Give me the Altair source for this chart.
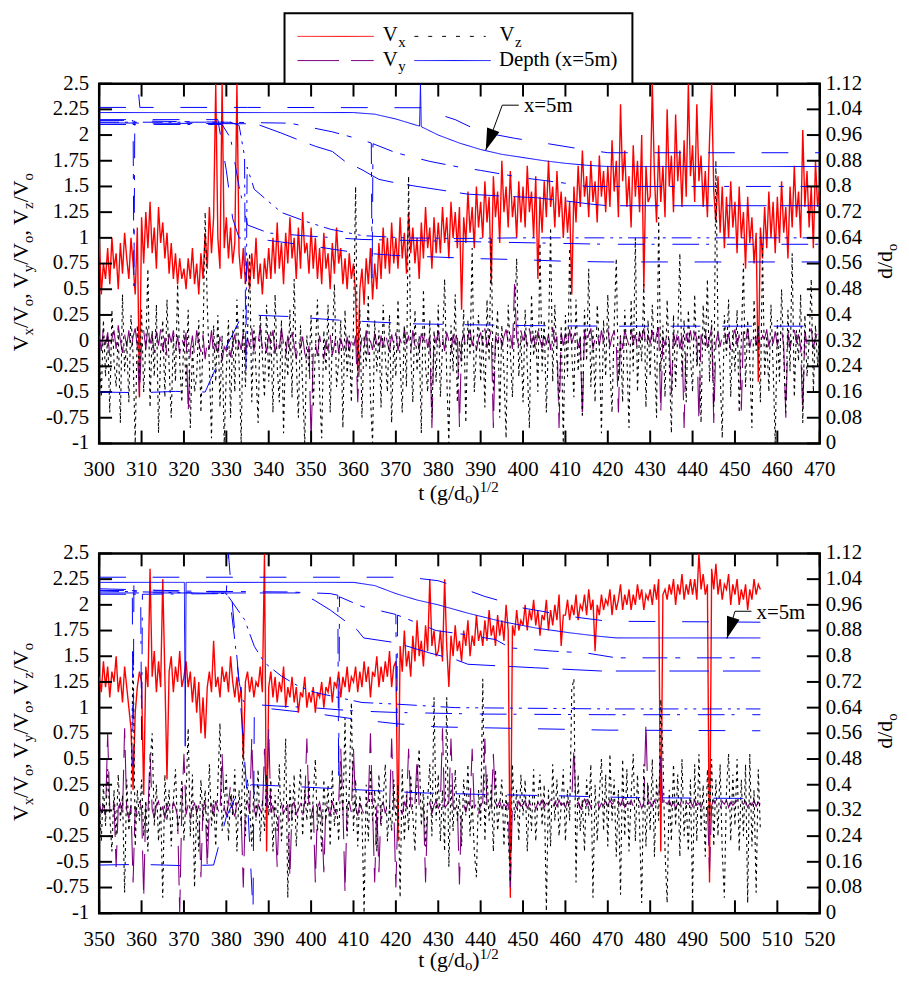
import numpy as np
import pandas as pd
import altair as alt

FONT = "Liberation Serif"
W, H = 727, 363
RED, PURPLE, BLUE = "#ff0000", "#800080", "#0000ff"

V_TICKS = [-1, -0.75, -0.5, -0.25, 0, 0.25, 0.5, 0.75, 1, 1.25, 1.5, 1.75, 2, 2.25, 2.5]
D_TICKS = [0, 0.08, 0.16, 0.24, 0.32, 0.4, 0.48, 0.56, 0.64, 0.72, 0.8, 0.88, 0.96, 1.04, 1.12]
TOP_T_TICKS = [300, 310, 320, 330, 340, 350, 360, 370, 380, 390, 400, 410, 420, 430, 440, 450, 460, 470]
BOT_T_TICKS = [350, 360, 370, 380, 390, 400, 410, 420, 430, 440, 450, 460, 470, 480, 490, 500, 510, 520]

# ---------------- upper panel: samples every 0.5 from t = 300 ----------------
TOP_T0 = 300.0
TOP_VX = [
    1.0, 0.45, 0.75, 0.6, 0.9, 0.55, 1.0, 0.7, 0.85, 0.5, 0.95, 0.65, 1.05, 0.8, 0.6, 1.0, 0.75, 0.45, 1.1, -0.55,
    1.2, 0.75, 1.25, 0.9, 1.35, 0.85, 1.1, 0.7, 1.3, 0.95, 1.15, 0.8, 1.05, 0.65, 0.95, 0.6, 0.85, 0.55, 0.8, 0.6,
    0.7, 0.5, 0.8, 0.6, 0.9, 0.55, 0.75, 0.45, 0.85, 0.6, 1.05, 0.7, 1.3, 0.85, 1.2, 2.5, 1.0, 0.7, 2.5, 0.9,
    1.2, 0.8, 1.1, 0.75, 0.95, 2.5, 0.85, 0.6, 0.9, 0.55, 0.8, 0.5, 0.85, 0.6, 1.0, 0.55, 0.75, 0.45, 0.8, 0.6,
    0.9, 0.6, 1.0, 0.65, 1.15, 0.7, 0.95, 0.55, 1.05, 0.75, 1.2, 0.8, 1.0, 0.6, 1.1, 0.7, 1.25, 0.85, 0.95, 0.65,
    1.1, 0.7, 1.0, 0.6, 0.9, 0.55, 1.05, 0.7, 0.85, 0.5, 0.95, 0.65, 1.1, 0.75, 0.9, 0.55, 0.8, 0.5, 0.85, 0.6,
    0.75, 0.45, -0.3, 0.5, 0.7, 0.35, 0.8, 0.55, 0.9, 0.4, 0.75, 0.5, 0.95, 0.6, 1.1, 0.7, 1.0, 0.65, 1.15, 0.75,
    1.0, 0.7, 1.2, 0.8, 1.05, 0.65, 1.25, 0.85, 1.1, 0.75, 1.0, 0.6, 1.15, 0.8, 1.3, 0.9, 1.1, 0.7, 1.2, 0.85,
    1.15, 0.85, 1.3, 0.95, 1.2, 0.8, 1.35, 1.0, 1.25, 0.9, 1.3, 0.3, 1.2, 0.95, 1.45, 1.05, 1.3, 0.9, 1.5, 1.1,
    1.35, 1.0, 1.55, 1.15, 1.4, 0.55, 1.6, 1.2, 1.45, 0.95, 1.75, 1.25, 1.5, 1.1, 1.65, 1.2, 1.4, 1.0, 1.55, 1.15,
    1.5, 1.1, 1.7, 1.25, 1.45, 1.0, 1.6, 0.6, 1.4, 1.05, 1.55, 1.2, 1.75, 1.3, 1.5, 1.1, 1.65, 1.2, 1.45, 1.0,
    1.4, 1.05, 1.35, 0.45, 1.5, 1.15, 1.7, 1.3, 1.85, 1.4, 1.6, 1.2, 1.75, 1.35, 1.55, 1.15, 1.8, 1.4, 1.65, 1.25,
    1.7, 1.3, 1.95, 1.45, 1.75, 1.2, 2.3, 1.55, 1.85, 1.3, 1.6, 1.1, 1.9, 1.4, 1.75, 1.25, 2.0, 0.5, 1.7, 1.35,
    1.4, 2.5, 1.6, 1.15, 1.9, 1.35, 1.7, 1.2, 2.25, 1.5, 1.8, 1.25, 2.2, 1.55, 1.85, 1.3, 1.95, 1.4, 2.5, 1.6,
    1.9, 1.35, 2.3, 1.55, 1.8, 1.3, 1.65, 1.2, 1.95, 2.5, 1.45, 1.15, 1.6, 1.05, 1.5, 0.9, 1.4, 1.0, 1.55, 1.1,
    1.35, 0.85, 1.5, 1.0, 1.25, 0.7, 1.4, 0.95, 1.2, 0.75, 1.05, -0.4, 1.1, 0.8, 1.3, 0.9, 1.45, 1.0, 1.35, 0.85,
    1.4, 0.95, 1.55, 1.05, 1.3, 0.8, 1.5, 1.1, 1.7, 1.2, 1.45, 1.0, 2.05, 1.3, 1.65, 1.1, 1.5, 0.9, 1.75, 1.3, 1.5,
]
TOP_VY = [
    0.05, -0.1, 0.12, -0.04, 0.08, -0.15, 0.02, 0.1, -0.08, 0.15, 0.0, -0.12, 0.06, -0.05, 0.1, -0.1, 0.04, 0.12, -0.06, -0.55,
    0.0, 0.1, -0.08, 0.14, -0.03, 0.06, -0.12, 0.09, -0.05, 0.11, -0.1, 0.03, -0.15, 0.07, -0.02, 0.1, -0.09, 0.05, -0.13, 0.02,
    -0.05, 0.08, -0.7, -0.1, 0.05, -0.14, 0.1, -0.02, -0.11, 0.06, -0.18, 0.0, -0.08, 0.1, -0.15, -0.03, -0.12, 0.04, -0.2, -0.06,
    -0.1, 0.02, -0.16, -0.04, 0.06, -0.12, 0.0, -0.09, 0.08, -0.14, 0.03, -0.06, 0.12, -0.1, 0.05, -0.03, 0.14, -0.08, 0.02, -0.12,
    0.06, -0.05, 0.1, -0.13, 0.02, -0.08, 0.12, -0.03, -0.15, 0.05, -0.1, 0.08, -0.04, -0.18, 0.0, -0.07, 0.04, -0.12, -0.2, -0.05,
    -1.0, -0.1, -0.02, -0.15, 0.05, -0.08, -0.18, 0.0, -0.1, 0.06, -0.14, -0.04, 0.08, -0.12, 0.02, -0.06, -0.16, 0.04, -0.1, 0.0,
    -0.08, 0.05, -0.6, -0.12, 0.03, -0.06, 0.1, -0.14, 0.0, -0.09, 0.07, -0.03, -0.13, 0.05, -0.07, 0.09, -0.02, -0.11, 0.06, -0.04,
    0.08, -0.1, 0.02, -0.06, 0.12, -0.03, 0.05, -0.12, 0.1, -0.05, 0.03, -0.09, 0.07, 0.0, 0.1, -0.07, 0.04, -0.85, 0.06, -0.03,
    0.1, -0.06, 0.04, -0.1, 0.08, 0.0, -0.12, 0.06, -0.04, 0.1, -0.84, -0.02, 0.07, -0.08, 0.03, 0.11, -0.05, 0.06, -0.1, 0.02,
    0.08, -0.04, 0.12, -0.07, 0.02, 0.1, -0.85, 0.05, -0.03, 0.09, -0.06, 0.04, 0.11, -0.02, 0.07, -0.08, 0.55, 0.03, -0.05, 0.1,
    0.0, 0.08, -0.06, 0.12, -0.03, 0.05, -0.1, 0.09, 0.01, -0.07, 0.1, -0.04, 0.06, -0.09, 0.13, -0.02, 0.04, -0.85, 0.08, -0.05,
    0.07, -0.06, 0.11, -0.03, 0.05, 0.09, -0.07, 0.03, -0.75, 0.1, -0.04, 0.06, 0.12, -0.08, 0.02, 0.08, -0.05, 0.1, -0.02, 0.06,
    0.12, -0.06, 0.04, 0.09, -0.03, -0.7, 0.07, -0.08, 0.1, 0.02, -0.05, 0.11, -0.02, 0.06, -0.09, 0.08, 0.01, 0.12, -0.06, 0.05,
    -0.03, 0.1, -0.07, 0.06, 0.13, -0.7, 0.04, -0.05, 0.09, 0.0, -0.52, 0.08, -0.04, 0.11, -0.08, 0.05, -0.85, 0.07, -0.02, 0.1,
    -0.05, 0.08, 0.02, -0.78, 0.06, -0.04, 0.1, -0.07, 0.03, 0.12, -0.8, -0.02, 0.08, -0.06, 0.05, 0.1, -0.03, 0.07, -0.09, 0.04,
    0.11, -0.05, 0.06, -0.68, 0.09, -0.02, 0.12, -0.07, 0.04, 0.08, -0.04, 0.1, -0.08, 0.05, 0.02, 0.11, -0.06, 0.07, -0.03, 0.09,
    -0.05, 0.06, 0.1, -0.04, -0.75, 0.08, -0.07, 0.03, 0.11, -0.02, 0.06, -0.06, -0.7, 0.09, -0.03, 0.05, 0.12, -0.08, 0.04, 0.07, 0.0,
]
TOP_VZ = [
    -0.1, -0.55, 0.2, -0.35, 0.05, -0.7, 0.3, -0.2, -0.45, 0.1, -0.8, 0.45, -0.3, 0.0, -0.6, 0.25, -0.15, -1.0, 0.15, -0.4,
    0.3, -0.5, -0.05, 0.7, -0.65, 0.1, -0.35, 0.35, -0.9, -0.1, 0.2, -0.55, 0.4, -0.25, -0.75, 0.05, -0.4, 0.55, -0.2, -0.6,
    0.1, -0.45, 0.3, -0.85, -0.05, -0.5, -0.35, 0.2, -0.7, 0.0, 1.25, 0.35, -0.25, -0.95, 0.15, -0.4, 0.25, -0.65, 0.05, -1.0,
    -0.3, 0.2, -0.75, 0.1, -0.5, 0.4, -0.2, -1.0, 0.3, -0.45, 0.05, 0.85, -0.6, 0.15, -0.3, -0.8, 0.25, -0.15, -0.55, 0.35,
    -0.4, 0.1, -0.7, 0.45, -0.25, -0.6, 0.2, -0.9, 0.0, -0.35, 0.3, -0.55, 0.6, -0.2, -0.75, 0.15, -0.45, -1.0, 0.05, -0.3,
    0.25, -0.65, -0.1, 0.4, -0.5, -0.95, 0.1, -0.3, 0.35, -0.7, 0.0, 0.55, -0.45, -0.2, 0.2, -0.85, 0.3, -0.35, 0.05, -0.6,
    0.15, 1.5, -0.4, 0.3, -0.75, 0.05, -0.25, 0.45, -0.55, -1.0, 0.2, -0.3, 0.1, -0.65, 0.35, -0.15, -0.5, 0.25, -0.8, 0.0,
    -0.35, 0.4, -0.2, -0.7, 0.15, -0.45, 1.6, -0.1, -0.6, 0.3, -0.3, 0.05, -0.9, 0.5, -0.25, -0.5, 0.2, -0.75, 0.1, -0.4,
    0.35, -0.55, -0.05, 0.6, -0.35, -1.0, 0.15, -0.3, 0.45, -0.6, 0.0, -0.25, 0.3, -0.8, 0.2, -0.15, 0.9, -0.5, -0.1, 0.25,
    -0.4, 0.1, -0.65, 0.4, -0.2, 1.0, -0.5, -0.05, 0.3, -0.75, 0.15, -0.3, -0.95, 0.35, -0.1, -0.55, 0.2, 0.8, -0.35, 0.05,
    -0.6, 0.3, -0.25, -0.85, 0.45, -0.15, 0.1, -0.5, 0.95, -0.3, 0.2, -0.7, 0.0, 1.1, -0.4, 0.35, -0.2, -0.65, 0.15, -1.0,
    0.25, -0.35, 0.9, -0.1, -0.55, 0.4, -0.3, 0.05, -0.75, 0.3, -0.2, 0.7, -0.45, 0.1, -0.6, 0.35, -0.05, -0.9, 0.2, -0.35,
    0.45, -0.25, -0.7, 0.15, 0.8, -0.4, 0.05, -0.6, 0.3, -0.15, -0.85, 0.4, -0.3, 1.0, -0.5, 0.1, -0.2, 0.55, -0.65, 0.2,
    -0.35, 0.35, -0.1, -0.75, 1.2, -0.3, 0.15, -0.55, 0.4, -0.2, -0.9, 0.25, -0.45, 0.05, 0.85, -0.35, 0.2, -0.6, 0.3, -0.15,
    -0.5, 0.45, -0.25, 0.1, -0.8, 0.35, -0.1, 0.6, -0.4, 0.2, -0.65, 1.75, 0.05, -0.3, -0.95, 0.25, -0.15, 0.4, -0.55, 0.1,
    -0.3, 0.3, -0.7, 0.0, 0.75, -0.45, 0.2, -0.2, -0.85, 0.4, -0.1, 0.15, -0.6, 0.9, -0.35, 0.05, -0.5, 0.35, -0.25, -1.0,
    0.2, -0.4, 0.5, -0.15, -0.7, 0.3, -0.3, 0.85, -0.55, 0.1, -0.2, 0.45, -0.8, 0.25, -0.35, 0.0, 0.6, -0.5, 0.15, -0.25, 0.1,
]
# depth lines (t, d/do)
TOP_L1 = [(300, 1.046), (309, 1.046), (309.3, 1.09), (309.6, 1.046), (335, 1.046), (378, 1.045), (380, 1.025),
          (384, 1.008), (390, 0.97), (398, 0.95), (405, 0.935), (412, 0.92), (420, 0.905), (470, 0.905)]
TOP_L2 = [(300, 1.03), (360, 1.03), (365, 1.025), (370, 1.01), (375, 0.99), (375.6, 0.988), (375.8, 1.12),
          (376.0, 0.986), (380, 0.96), (385, 0.935), (390, 0.915), (395, 0.90), (400, 0.89), (405, 0.88),
          (410, 0.872), (415, 0.866), (420, 0.862), (470, 0.862)]
TOP_L3 = [(300, 1.005), (308.0, 1.005), (308.2, 0.49), (308.4, 1.004), (345, 0.997), (355, 0.97), (362, 0.945),
          (364.2, 0.935), (364.4, 0.51), (364.6, 0.933), (370, 0.905), (378, 0.878), (385, 0.86), (390, 0.85),
          (400, 0.827), (410, 0.81), (415, 0.80), (470, 0.80)]
TOP_L4 = [(300, 0.998), (337, 0.995), (343, 0.966), (347, 0.945), (351, 0.925), (355, 0.909), (358, 0.878),
          (362, 0.852), (366, 0.822), (370, 0.811), (375, 0.80), (380, 0.79), (387, 0.776), (395, 0.77),
          (403, 0.765), (410, 0.755), (416, 0.745), (420, 0.74), (470, 0.74)]
TOP_L5 = [(300, 1.0), (331, 1.0), (333, 0.99), (334.3, 0.894), (334.6, 0.22), (334.9, 0.86), (336.6, 0.791),
          (343, 0.719), (349, 0.69), (354.5, 0.667), (362, 0.647), (372, 0.64), (384, 0.638), (400, 0.64), (470, 0.64)]
TOP_L6 = [(300, 0.993), (329, 0.993), (331, 0.95), (333, 0.8), (335, 0.68), (340, 0.655), (350, 0.645),
          (362, 0.635), (380, 0.63), (400, 0.625), (420, 0.62), (470, 0.62)]
TOP_L7 = [(300, 1.008), (328, 1.008), (330, 0.85), (331.5, 0.70), (333, 0.64), (340, 0.632), (350, 0.615),
          (360, 0.595), (370, 0.585), (380, 0.58), (390, 0.575), (400, 0.572), (410, 0.567), (420, 0.565), (470, 0.565)]
TOP_L8 = [(300, 0.16), (310, 0.158), (318, 0.162), (325, 0.16), (327, 0.22), (330, 0.30), (333, 0.38), (335, 0.40),
          (345, 0.395), (355, 0.385), (365, 0.378), (375, 0.372), (385, 0.37), (400, 0.367), (420, 0.365), (470, 0.365)]
TOP_LEADER = [(395.1, 1.053, 399.0, 1.053), (395.1, 1.053, 391.2, 0.913)]
TOP_TIP = (391.2, 0.913)
TOP_LABEL = (400.2, 1.033)

# ---------------- lower panel: samples every 0.5 from t = 350 ----------------
BOT_T0 = 350.0
BOT_VX = [
    1.3, 1.15, 1.45, 1.2, 1.4, 1.1, 1.35, 1.25, 1.5, 1.15, 1.3, 1.05, 1.4, 1.2, 1.0, 0.8, 0.2, 0.95, 1.2, 1.35,
    1.25, 0.15, 1.4, 1.2, 2.35, 1.3, 1.55, 1.15, 1.45, 1.2, 2.25, 1.3, 0.3, 1.35, 1.5, 1.15, 1.4, 1.25, 1.55, 1.2,
    1.3, 1.45, 1.2, 1.35, 1.05, 1.3, 0.95, 1.25, 0.75, 1.1, 0.7, 1.2, 1.35, 1.15, 1.65, 1.2, 1.3, 1.1, 1.4, 1.25,
    1.35, 1.15, 1.5, 1.25, 1.1, 1.3, 1.05, 1.2, 0.5, 1.25, 1.35, 1.15, 1.3, 1.1, 1.25, 1.2, 1.4, 1.15, 2.5, -0.4,
    1.2, 1.35, 1.1, 1.3, 1.05, 1.25, 1.15, 1.4, 1.0, 1.2, 1.1, 1.3, 1.05, 1.2, 0.95, 1.15, 1.1, 1.3, 1.0, 1.15,
    1.05, 1.2, 0.95, 1.15, 1.1, 1.25, 1.0, 1.2, 1.15, 1.3, 1.05, 1.25, 1.2, 1.35, 1.1, 1.3, 1.2, 1.4, 1.15, 1.3,
    1.25, 1.4, 1.15, 1.35, 1.2, 1.45, 1.25, 1.4, 1.1, 1.35, 1.3, 1.5, 1.2, 1.4, 1.25, 1.45, 1.3, 1.55, 1.2, 1.4,
    1.45, -0.3, 1.6, 1.35, 1.75, 1.4, 1.55, 1.3, 1.7, 1.45, 1.85, 1.5, 1.65, 1.4, 1.8, 1.55, 2.25, 1.6, 1.75, 1.5,
    1.55, 1.75, 1.45, 2.25, 1.6, 1.2, 1.7, 1.5, 1.8, 1.55, 1.65, 1.45, 1.75, 1.6, 1.85, 1.5, 1.7, 1.6, 1.9, 1.65,
    1.75, 1.6, 1.85, 1.65, 1.95, 1.7, 1.8, 1.6, 1.9, 1.7, 1.85, 1.65, 2.0, 1.75, -0.85, 1.8, 1.7, 1.95, 1.75, 1.85,
    1.8, 2.0, 1.75, 1.95, 1.85, 2.05, 1.8, 1.95, 1.7, 1.9, 1.85, 2.05, 1.75, 1.95, 1.8, 2.0, 1.85, 2.1, 1.6, 1.9,
    1.9, 2.05, 1.85, 2.0, 1.9, 2.1, 1.85, 2.0, 1.95, 2.1, 1.9, 2.15, 1.95, 2.05, 1.55, 2.0, 1.9, 2.1, 1.95, 2.05,
    2.0, 2.15, 1.9, 2.1, 1.95, 2.05, 2.2, 1.95, 2.1, 2.0, 2.15, 1.95, 2.1, 2.0, 2.2, 2.05, 2.15, 1.95, 2.1, 2.05,
    2.15, 2.0, 2.2, 2.05, 2.25, -0.4, 2.1, 2.15, 2.05, 2.2, 2.1, 2.25, 2.0, 2.2, 2.1, 2.3, 2.05, 2.2, 2.1, 2.25,
    2.1, 2.25, 2.05, 2.5, 2.15, 2.3, 2.1, 2.2, -0.7, 2.35, 2.15, 2.4, 2.1, 2.25, 2.05, 2.2, 2.15, 2.3, 2.0, 2.2,
    2.1, 2.25, 2.0, 2.15, 2.05, 2.2, 1.95, 2.15, 2.05, 2.25, 2.1, 2.2, 2.15,
]
BOT_VY = [
    0.1, -0.03, 0.06, -0.05, 0.75, 0.02, -0.04, 0.08, -0.55, 0.03, 0.07, -0.06, 0.8, 0.0, -0.08, 0.05, -0.7, 0.04, -0.05, 0.09,
    0.02, -0.85, 0.06, -0.04, 0.55, 0.01, -0.07, 0.05, 0.09, -0.03, 0.04, -0.08, 0.07, 0.0, -0.05, 0.08, 0.03, -0.06, -1.0, 0.05,
    0.55, -0.04, 0.06, -0.08, 0.03, 0.07, -0.02, 0.05, -0.65, 0.04, 0.08, -0.55, 0.02, 0.06, -0.05, 0.09, 0.01, -0.04, 0.55, 0.03,
    -0.05, 0.07, 0.25, 0.0, -0.06, 0.08, 0.02, -0.04, -0.75, 0.05, 0.09, -0.03, 0.7, 0.04, -0.07, 0.06, 0.01, -0.05, 0.6, 0.03,
    0.8, -0.02, 0.05, -0.08, -0.55, 0.04, 0.07, -0.03, 0.02, 0.06, -0.65, 0.05, 0.08, -0.04, 0.01, 0.06, -0.05, 0.09, 0.7, 0.0,
    -0.06, 0.05, -0.7, 0.03, 0.08, -0.04, -0.6, 0.06, 0.02, -0.05, 0.09, 0.0, -0.03, 0.07, 0.6, 0.04, -0.8, 0.05, 0.08, -0.02,
    0.6, 0.03, -0.05, 0.07, 0.01, -0.04, 0.06, 0.09, 0.75, 0.02, -0.7, 0.05, -0.6, 0.04, 0.08, -0.03, 0.06, 0.0, 0.7, 0.05,
    -0.75, 0.06, 0.02, -0.04, 0.08, 0.03, 0.6, 0.05, -0.02, 0.07, 0.5, 0.04, 0.01, 0.06, -0.7, 0.03, 0.08, -0.03, 0.05, 0.09,
    0.02, 0.06, 0.8, -0.02, 0.05, 0.08, 0.7, 0.04, 0.01, 0.07, -0.72, 0.03, 0.06, -0.02, 0.08, 0.05, 0.6, 0.02, 0.07, -0.03,
    0.05, 0.08, 0.7, 0.03, 0.06, 0.01, 0.55, 0.07, 0.04, 0.09, 0.02, 0.06, 0.03, 0.08, -0.75, 0.05, 0.07, 0.02, 0.09, 0.04,
    0.06, 0.1, 0.02, 0.07, 0.04, 0.09, 0.01, 0.08, 0.05, 0.1, 0.03, 0.07, 0.06, 0.11, 0.02, 0.08, 0.04, 0.1, 0.05, 0.07,
    0.03, 0.09, 0.06, 0.1, 0.6, 0.04, 0.08, 0.02, 0.07, 0.11, 0.05, 0.09, 0.03, 0.08, 0.06, 0.1, 0.02, 0.07, 0.05, 0.09,
    0.04, 0.1, 0.06, 0.08, 0.02, 0.09, 0.05, 0.11, 0.03, 0.07, 0.06, 0.1, 0.04, 0.08, 0.05, 0.09, 0.02, 0.07, 0.85, 0.06,
    0.08, 0.04, 0.1, 0.05, 0.07, 0.55, 0.03, 0.09, 0.06, 0.1, 0.04, 0.08, 0.02, 0.07, 0.05, 0.11, 0.03, 0.08, 0.06, 0.09,
    0.04, 0.1, 0.05, 0.07, 0.03, 0.09, 0.06, 0.08, -0.6, 0.05, 0.1, 0.04, 0.07, 0.02, 0.09, 0.06, 0.1, 0.03, 0.08, 0.05,
    0.07, 0.1, 0.04, 0.08, 0.06, 0.09, 0.03, 0.07, 0.05, 0.1, 0.04, 0.08, 0.06,
]
BOT_VZ = [
    0.1, -0.3, 0.25, -0.15, 0.4, -0.05, -0.4, 0.2, -0.25, 0.35, -0.1, 0.15, -0.8, 0.3, -0.2, 0.05, 1.55, -0.35, 0.2, -0.1,
    0.3, -0.25, 0.1, -0.4, 0.45, 0.75, -0.15, 0.25, -0.3, 0.05, -0.85, 0.35, -0.1, 0.2, -0.35, 0.1, 0.4, -0.2, -0.05, 0.3,
    -0.3, 0.15, 0.8, -0.25, 0.35, -0.75, 0.05, -0.4, 0.3, -0.1, 0.2, -0.3, 0.45, -0.15, 0.1, -0.35, 0.25, 0.85, -0.2, 0.05,
    0.35, -0.3, 0.15, -0.05, 0.4, -0.4, 0.2, -0.15, 0.75, -0.25, 0.3, 0.05, -0.35, 0.25, -0.1, 0.4, -0.3, 0.1, -0.2, 0.35,
    -0.05, 0.3, -0.4, 0.15, -0.2, 0.45, -0.3, 0.05, 0.7, -0.85, 0.25, -0.15, 0.35, -0.35, 0.1, 0.4, -0.25, 0.2, -0.1, 0.3,
    -0.3, 0.15, 0.5, -0.2, 0.05, -0.4, 0.3, -0.1, 0.25, -0.35, 0.4, -0.15, 0.1, -0.3, 0.35, -0.05, 0.9, -0.25, 0.2, 1.05,
    -0.2, 0.3, -0.35, 0.15, -0.05, -1.0, 0.25, -0.3, 0.4, -0.1, 0.2, -0.4, 0.35, -0.15, 0.1, 0.45, -0.3, 0.05, -0.2, 0.3,
    -0.1, 0.25, -0.85, 0.4, -0.3, 0.15, -0.2, 0.35, -0.05, -0.4, 0.3, 0.6, -0.15, 0.2, -0.35, 0.1, 0.45, -0.25, 1.1, -0.1,
    0.35, -0.3, 0.2, -0.4, 1.1, -0.55, 0.25, -0.2, 0.4, -0.1, 0.15, -0.35, 0.3, -0.05, 0.45, -0.25, 0.1, -0.4, -0.65, 0.2,
    -0.15, 1.28, -0.3, 0.35, -0.1, 0.25, -0.4, 0.4, -0.2, 0.05, 0.3, -0.35, 0.15, -0.25, -0.7, 0.45, -0.1, 0.2, -0.3, 0.35,
    -0.05, 0.3, -0.4, 0.15, -0.2, 0.4, -0.3, 0.1, 0.35, -0.15, 0.25, -0.98, 0.2, -0.35, 0.45, -0.1, 0.3, -0.25, 0.05, 0.4,
    -0.3, 0.2, -0.1, 1.18, 1.28, -0.7, 0.35, -0.2, 0.1, -0.4, 0.3, -0.05, 0.45, -0.85, 0.25, -0.3, 0.15, 0.5, -0.2, 0.35,
    -0.35, 0.55, -0.1, 0.3, -0.45, 0.2, -0.82, 0.5, -0.25, 0.4, -0.4, 0.15, 0.55, -0.3, 0.35, -0.15, -0.9, 0.45, -0.35, 0.25,
    -0.2, 0.5, -0.45, 0.3, -0.1, 1.08, 0.55, -0.4, -0.9, 0.2, -0.3, 0.45, -0.15, 0.35, -0.45, 0.5, -0.25, 0.1, -0.4, 0.3,
    -0.85, 0.45, -0.3, 0.55, -0.2, 0.25, -0.45, 0.4, -0.1, 0.5, -0.35, 0.3, -0.25, 0.45, -0.4, -0.85, 0.2, 0.55, -0.3, 0.35,
    -0.15, 0.5, -0.4, 0.3, -0.25, 0.45, -0.9, 0.55, -0.35, 0.2, -0.8, 0.4, -0.2,
]
BOT_L1 = [(350, 1.046), (357.8, 1.046), (358.0, 0.46), (358.2, 1.046), (423, 1.046), (430, 1.035), (436, 1.01),
          (441, 0.986), (445, 0.971), (450, 0.95), (454.5, 0.94), (461, 0.924), (470, 0.909), (506, 0.906)]
BOT_L2 = [(350, 1.03), (370.1, 1.03), (370.3, 0.52), (370.5, 1.03), (410, 1.03), (415, 1.02), (420, 0.995),
          (425, 0.975), (430, 0.96), (437, 0.934), (445, 0.908), (453, 0.888), (461, 0.873), (468, 0.862),
          (472, 0.857), (506, 0.857)]
BOT_L3 = [(350, 1.005), (395, 1.0), (404.5, 0.995), (406.3, 0.99), (406.5, 0.41), (406.7, 0.985), (412, 0.955),
          (420, 0.93), (420.2, 0.58), (420.4, 0.928), (429.5, 0.88), (435, 0.87), (443.5, 0.852), (447, 0.826),
          (457, 0.816), (465, 0.81), (472, 0.795), (506, 0.795)]
BOT_L4 = [(350, 0.997), (397, 0.997), (400.7, 0.975), (404.5, 0.944), (410.8, 0.883), (412.4, 0.857), (420, 0.842),
          (428, 0.81), (434, 0.79), (437, 0.775), (453, 0.764), (468.5, 0.754), (506, 0.754)]
BOT_L5 = [(350, 1.003), (380, 0.995), (384.3, 0.914), (386.6, 0.831), (389, 0.78), (393, 0.738), (397, 0.707),
          (401, 0.687), (404.5, 0.677), (412, 0.656), (420, 0.651), (434, 0.64), (470, 0.636), (506, 0.636)]
BOT_L6 = [(350, 0.993), (359.8, 0.993), (360.0, 0.54), (360.2, 0.993), (380, 0.995), (381, 0.96), (382, 0.85),
          (383, 0.72), (384, 0.66), (386, 0.65), (392, 0.645), (400, 0.64), (410, 0.63), (420, 0.625), (440, 0.62),
          (470, 0.618), (506, 0.618)]
BOT_L7 = [(350, 1.01), (380, 1.0), (380.5, 1.12), (381.5, 0.95), (383, 0.72), (385, 0.35), (386.3, 0.0),
          (386.6, 0.64), (388, 0.64), (395, 0.63), (402, 0.62), (410, 0.605), (420, 0.59), (430, 0.58), (450, 0.575),
          (470, 0.57), (506, 0.568)]
BOT_L8 = [(350, 0.15), (360, 0.152), (370, 0.148), (377, 0.15), (378, 0.2), (380, 0.30), (383, 0.385), (386, 0.40),
          (395, 0.395), (410, 0.385), (425, 0.375), (440, 0.37), (460, 0.365), (475, 0.36), (506, 0.357)]
BOT_LEADER = [(500.0, 0.94, 503.9, 0.94), (500.0, 0.94, 498.1, 0.855)]
BOT_TIP = (498.1, 0.855)
BOT_LABEL = (505.1, 0.916)

DEPTH_NAMES = ["L1", "L2", "L3", "L4", "L5", "L6", "L7", "L8"]
DEPTH_DASHES = [[27, 27], [1, 0], [25, 8, 5, 17], [40, 14], [20, 6, 3, 6, 3, 6], [27, 7, 3, 18], [27, 27], [30, 22]]

ARROW = "M0,0L-0.6,-2L0.6,-2Z"
EM = {'V': 0.722, 'x': 0.5, 'o': 0.5, 'y': 0.5, 'z': 0.444, '/': 0.278, ',': 0.25, ' ': 0.25, 'd': 0.5,
      't': 0.278, '(': 0.333, ')': 0.333, 'g': 0.5, '1': 0.5, '2': 0.5}
RIGHT_BASE = 73      # right title baseline, px right of the plot
SPACING = 111        # gap between the two plot frames


def tw(s, size):
    return sum(EM[c] for c in s) * size


ONE = pd.DataFrame({"a": [0]})


def txt(s, px, py, size, angle=0):
    return alt.Chart(ONE).mark_text(
        text=s, font=FONT, fontSize=size, align="left", baseline="alphabetic", angle=angle, color="black"
    ).encode(x=alt.value(px), y=alt.value(py))


def series(t0, vals):
    return pd.DataFrame({"t": t0 + 0.5 * np.arange(len(vals)), "v": vals})


def fmt(v):
    return f"{v:g}"


def titles(gap):
    out = []
    M, S = 22, 15
    pieces = [("V", M), ("x", S), ("/V", M), ("o", S), (", V", M), ("y", S), ("/V", M), ("o", S),
              (", V", M), ("z", S), ("/V", M), ("o", S)]
    y = 270.0
    for s, sz in pieces:
        out.append(txt(s, -71.7 if sz == M else -66.7, y, sz, 270))
        y -= tw(s, sz)
    y = 197.0
    out.append(txt("d/d", W + RIGHT_BASE, y, M, 270))
    out.append(txt("o", W + RIGHT_BASE + 4.5, y - tw("d/d", M), S, 270))
    xp = [("t (g/d", M, 0), ("o", S, 3.5), (")", M, 0), ("1/2", S, -8)]
    total = sum(tw(s, sz) for s, sz, _ in xp)
    x = W / 2 - 1 - total / 2
    for s, sz, off in xp:
        out.append(txt(s, x, H + gap + off, sz))
        x += tw(s, sz)
    return out


def legend():
    out = [alt.Chart(ONE).mark_rect(fill="white", stroke="black", strokeWidth=2).encode(
        x=alt.value(187), x2=alt.value(538), y=alt.value(-71), y2=alt.value(0))]
    items = [(200, 277, -47.7, RED, [1, 0]), (318, 390, -47.7, "black", [4, 10]),
             (200, 277, -23.3, PURPLE, [42, 12]), (318, 395, -23.3, BLUE, [1, 0])]
    for x1, x2, yy, col, dash in items:
        out.append(alt.Chart(ONE).mark_rule(color=col, strokeWidth=1, strokeDash=dash).encode(
            x=alt.value(x1), x2=alt.value(x2), y=alt.value(yy)))
    vw = 0.722 * 21
    for (xx, yy, sub) in [(286, -43.3, "x"), (404, -43.3, "z"), (286, -18.3, "y")]:
        out.append(txt("V", xx, yy, 21))
        out.append(txt(sub, xx + vw + 0.5, yy + 6, 15))
    out.append(txt("Depth (x=5m)", 403.3, -18.3, 21))
    return out


def panel(t0, vx, vy, vz, lines, xdom, tticks, leader, tip, ang, label, with_legend, gap):
    XS = alt.Scale(domain=xdom, nice=False, zero=False)
    VS = alt.Scale(domain=[-1, 2.5], nice=False, zero=False)
    DS = alt.Scale(domain=[0, 1.12], nice=False, zero=False)

    def X():
        return alt.X("t:Q", scale=XS, axis=None)

    def YV():
        return alt.Y("v:Q", scale=VS, axis=None)

    def YD():
        return alt.Y("d:Q", scale=DS, axis=None)

    lx = alt.Chart(series(t0, vx)).mark_line(color=RED, strokeWidth=1.4, clip=True).encode(x=X(), y=YV())
    ly = alt.Chart(series(t0, vy)).mark_line(color=PURPLE, strokeWidth=1.1, strokeDash=[40, 12], clip=True).encode(
        x=X(), y=YV())
    lz = alt.Chart(series(t0, vz)).mark_line(color="black", strokeWidth=1.1, strokeDash=[3, 4], clip=True).encode(
        x=X(), y=YV())
    vdf = pd.DataFrame({"v": V_TICKS, "lab": [fmt(v) for v in V_TICKS]})
    lt = alt.Chart(vdf).mark_rule(color="black", strokeWidth=2).encode(y=YV(), x=alt.value(0), x2=alt.value(13))
    ll = alt.Chart(vdf).mark_text(font=FONT, fontSize=21, align="right", baseline="middle", color="black").encode(
        y=YV(), x=alt.value(-10), text="lab:N")
    tdf = pd.DataFrame({"t": tticks, "lab": [str(t) for t in tticks]})
    tt = alt.Chart(tdf).mark_rule(color="black", strokeWidth=2).encode(x=X(), y=alt.value(0), y2=alt.value(13))
    bt = alt.Chart(tdf).mark_rule(color="black", strokeWidth=2).encode(x=X(), y=alt.value(H - 13), y2=alt.value(H))
    bl = alt.Chart(tdf).mark_text(font=FONT, fontSize=21, align="center", baseline="top", color="black").encode(
        x=X(), y=alt.value(H + 16), text="lab:N")
    extra = titles(gap) + (legend() if with_legend else [])
    vlayer = alt.layer(lx, ly, lz, lt, ll, tt, bt, bl, *extra)

    rows = []
    for name, pts in zip(DEPTH_NAMES, lines):
        for i, (t, d) in enumerate(pts):
            rows.append({"line": name, "i": i, "t": t, "d": d})
    dl = alt.Chart(pd.DataFrame(rows)).mark_line(color=BLUE, strokeWidth=1, clip=True).encode(
        x=X(), y=YD(),
        strokeDash=alt.StrokeDash("line:N", scale=alt.Scale(domain=DEPTH_NAMES, range=DEPTH_DASHES), legend=None),
        detail="line:N", order="i:Q")
    ddf = pd.DataFrame({"d": D_TICKS, "lab": [fmt(d) for d in D_TICKS]})
    rt = alt.Chart(ddf).mark_rule(color="black", strokeWidth=2).encode(y=YD(), x=alt.value(W - 13), x2=alt.value(W))
    rl = alt.Chart(ddf).mark_text(font=FONT, fontSize=21, align="left", baseline="middle", color="black").encode(
        y=YD(), x=alt.value(W + 6), text="lab:N")
    ldf = pd.DataFrame(leader, columns=["t", "d", "t2", "d2"])
    ld = alt.Chart(ldf).mark_rule(color="black", strokeWidth=1).encode(x=X(), x2="t2:Q", y=YD(), y2="d2:Q")
    hd = alt.Chart(pd.DataFrame({"t": [tip[0]], "d": [tip[1]]})).mark_point(
        shape=ARROW, size=484, angle=ang, filled=True, color="black", opacity=1, strokeWidth=0).encode(x=X(), y=YD())
    lb = alt.Chart(pd.DataFrame({"t": [label[0]], "d": [label[1]]})).mark_text(
        text="x=5m", font=FONT, fontSize=21, align="left", baseline="alphabetic", color="black").encode(x=X(), y=YD())
    dlayer = alt.layer(dl, rt, rl, ld, hd, lb)
    return alt.layer(vlayer, dlayer).resolve_scale(y="independent").properties(width=W, height=H)


top = panel(TOP_T0, TOP_VX, TOP_VY, TOP_VZ,
            [TOP_L1, TOP_L2, TOP_L3, TOP_L4, TOP_L5, TOP_L6, TOP_L7, TOP_L8],
            [300, 470], TOP_T_TICKS, TOP_LEADER, TOP_TIP, 20.2, TOP_LABEL, True, 57)
bottom = panel(BOT_T0, BOT_VX, BOT_VY, BOT_VZ,
               [BOT_L1, BOT_L2, BOT_L3, BOT_L4, BOT_L5, BOT_L6, BOT_L7, BOT_L8],
               [350, 520], BOT_T_TICKS, BOT_LEADER, BOT_TIP, 17.0, BOT_LABEL, False, 54)

# fixed canvas (autosize none): the plot origin sits at page (100, 80); the vega view reports
# width 727 and height 0 for this layout, so the padding sets a 901 x 968 canvas.
chart = alt.vconcat(top, bottom, spacing=SPACING, bounds="flush").properties(
    autosize=alt.AutoSizeParams(type="none"),
    padding={"left": 92, "top": 72, "right": 82, "bottom": 896},
).configure_view(stroke="black", strokeWidth=2.5)

chart.save("out.html", embed_options={"renderer": "svg", "actions": False})
